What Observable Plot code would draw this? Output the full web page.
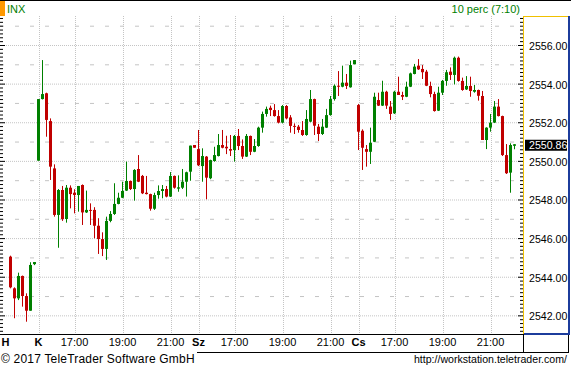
<!DOCTYPE html>
<html><head><meta charset="utf-8">
<script src="https://cdn.jsdelivr.net/npm/d3@7"></script>
<script src="https://cdn.jsdelivr.net/npm/@observablehq/plot@0.6"></script>
<style>
html,body{margin:0;padding:0;background:#fff;}
#wrap{position:relative;width:571px;height:372px;overflow:hidden;font-family:"Liberation Sans",Arial,sans-serif;background:#fff;}
.ln{position:absolute;}
.txt{position:absolute;white-space:nowrap;line-height:16px;}
#chart{position:absolute;left:0;top:16px;}
</style></head>
<body>
<div id="wrap">
  <div class="ln" style="left:0;top:0;width:571px;height:1px;background:#000"></div>
  <div class="ln" style="left:0;top:1px;width:5px;height:15px;background:#ff9900"></div>
  <div class="txt" id="sym" style="left:7px;top:1px;font-size:11px;color:#008000"></div>
  <div class="txt" id="per" style="right:51px;top:1px;font-size:11px;color:#008000"></div>
  <div id="chart"></div>
  <div class="ln" style="left:0;top:334px;width:523px;height:1px;background:#000"></div>
  <div class="ln" style="left:523px;top:16px;width:1px;height:318px;background:#f0c000"></div>
  <div class="ln" style="left:523px;top:16px;width:46px;height:1px;background:#f0c000"></div>
  <div class="ln" style="left:568px;top:16px;width:2px;height:319px;background:#1c3c9c"></div>
  <div class="ln" style="left:524px;top:333px;width:46px;height:2px;background:#1c3c9c"></div>
  <div class="ln" style="left:523px;top:334px;width:1px;height:19px;background:#000"></div>
  <div class="ln" style="left:568px;top:335px;width:1px;height:18px;background:#000"></div>
  <div class="ln" style="left:197px;top:352px;width:372px;height:1px;background:#000"></div>
  <div class="txt" id="copy" style="left:1px;top:351px;font-size:12px;letter-spacing:0.2px;color:#000"></div>
  <div class="txt" id="url" style="right:4px;top:351px;font-size:10.6px;color:#000"></div>
</div>
<script>
// ---- data ----
const symbol = "INX";
const periodLabel = "10 perc (7:10)";
const copyright = "© 2017 TeleTrader Software GmbH";
const url = "http://workstation.teletrader.com/";
const dayNames = ["H", "K", "Sz", "Cs"];
const dayFirstBar = ["21:00", "15:30", "15:30", "15:30"];
const dayBarCounts = [7, 40, 40, 40];
const hourTicks = ["17:00", "19:00", "21:00"];
const yTicks = [2542, 2544, 2546, 2548, 2550, 2552, 2554, 2556];
const lastPrice = 2550.86;

const opens = [
 2545.04,2543.40,2542.88,2544.04,2543.00,2542.24,2544.65,
 2550.01,2553.20,2553.50,2552.06,2549.61,2547.20,2548.49,2546.99,2548.61,2548.35,
 2548.23,2548.75,2547.33,2547.46,2547.46,2546.64,2545.95,2545.44,2546.89,2547.25,
 2547.77,2548.09,2548.46,2548.96,2548.54,2549.58,2549.22,2548.35,2548.28,2547.52,
 2548.23,2548.44,2548.54,2548.15,2549.22,2548.56,2548.61,2548.92,2549.44,2550.82,
 2550.61,2549.73,2550.22,2549.10,2549.99,2550.25,2550.82,2550.73,2550.61,2550.56,
 2551.29,2550.77,2550.22,2551.29,2550.47,2550.77,2551.72,2552.43,2552.75,2552.63,
 2552.32,2551.98,2552.84,2552.25,2551.81,2551.77,2551.60,2551.34,2552.03,2553.20,
 2551.77,2551.39,2551.72,2552.37,2553.20,2553.89,2553.84,2554.05,2553.81,2555.00,
 2552.89,2551.56,2550.61,2550.47,2550.99,2553.15,2552.86,2553.58,2552.81,2552.46,
 2553.58,2553.41,2553.32,2553.84,2554.50,2554.93,2554.76,2554.62,2553.88,2553.46,
 2552.60,2553.53,2554.14,2554.62,2554.45,2555.34,2554.14,2553.70,2553.88,2553.58,
 2553.67,2553.36,2551.08,2551.72,2551.98,2552.81,2552.32,2550.30,2549.39,2550.78
];
const highs = [
 2545.09,2543.45,2544.21,2544.06,2543.14,2544.75,2544.76,
 2553.20,2555.22,2553.53,2552.20,2549.82,2548.54,2548.70,2548.75,2548.73,2548.53,
 2548.70,2548.78,2548.46,2547.80,2547.60,2547.03,2546.30,2547.11,2547.40,2548.84,
 2548.35,2548.92,2549.96,2548.98,2549.57,2550.30,2549.27,2549.22,2548.30,2548.35,
 2548.73,2548.75,2548.70,2549.42,2549.24,2549.25,2549.58,2549.44,2550.79,2550.82,
 2551.60,2550.65,2550.25,2550.06,2550.73,2551.39,2551.60,2551.30,2551.34,2551.34,
 2551.65,2551.11,2551.39,2551.31,2551.13,2551.77,2552.55,2552.81,2552.86,2552.94,
 2552.63,2552.89,2552.89,2552.37,2551.94,2551.86,2552.06,2552.63,2553.67,2553.22,
 2551.91,2552.17,2552.69,2553.36,2553.96,2554.65,2554.93,2554.50,2555.19,2555.22,
 2552.95,2551.63,2550.82,2551.72,2553.53,2553.53,2554.15,2553.63,2553.10,2553.63,
 2554.36,2553.58,2554.10,2554.57,2555.02,2555.27,2554.96,2554.71,2554.10,2553.58,
 2553.84,2554.19,2554.71,2554.84,2555.40,2555.40,2554.31,2554.39,2554.36,2553.93,
 2553.69,2553.62,2551.74,2552.43,2553.10,2553.20,2552.34,2550.87,2550.91,2550.86
];
const lows = [
 2543.40,2541.85,2542.79,2542.45,2541.67,2542.24,2544.60,
 2550.01,2553.18,2551.25,2549.01,2547.11,2545.50,2546.89,2546.80,2547.54,2547.28,
 2547.37,2546.68,2547.30,2546.68,2545.99,2545.18,2545.07,2544.87,2546.82,2547.20,
 2547.75,2548.07,2548.44,2548.49,2547.94,2548.90,2548.28,2548.26,2547.42,2547.46,
 2548.04,2548.06,2548.11,2548.13,2548.56,2548.40,2548.54,2548.15,2548.97,2550.68,
 2549.73,2548.92,2548.01,2549.05,2549.96,2550.23,2550.65,2550.35,2550.25,2549.96,
 2550.56,2550.10,2550.20,2550.30,2550.45,2550.73,2551.46,2552.29,2552.32,2552.29,
 2551.94,2551.94,2552.15,2551.46,2551.39,2551.46,2551.29,2551.30,2552.00,2551.34,
 2551.03,2551.34,2551.70,2552.34,2553.12,2553.36,2553.81,2553.72,2553.79,2555.00,
 2550.56,2549.53,2549.70,2549.84,2550.97,2552.84,2552.84,2552.69,2552.12,2552.43,
 2553.56,2553.15,2553.30,2553.82,2554.48,2554.71,2554.24,2553.87,2553.29,2552.55,
 2552.58,2553.41,2553.89,2554.19,2553.96,2554.10,2553.63,2553.67,2553.32,2553.53,
 2553.12,2551.08,2550.61,2551.51,2551.96,2552.30,2550.25,2549.32,2548.35,2550.60
];
const closes = [
 2543.45,2542.88,2544.04,2543.00,2542.24,2544.61,2544.76,
 2553.20,2553.46,2552.12,2549.70,2547.20,2548.49,2546.99,2548.61,2548.28,2548.23,
 2548.70,2547.33,2547.46,2547.41,2546.64,2545.95,2545.44,2546.89,2547.25,2547.77,
 2548.09,2548.44,2548.96,2548.54,2549.53,2548.92,2548.32,2548.28,2547.52,2548.23,
 2548.44,2548.54,2548.15,2549.22,2548.61,2548.63,2548.92,2549.41,2550.79,2550.68,
 2549.77,2550.25,2549.13,2550.04,2550.30,2550.82,2550.68,2550.65,2550.53,2551.29,
 2550.77,2550.22,2551.29,2550.47,2550.77,2551.72,2552.43,2552.69,2552.63,2552.32,
 2551.98,2552.84,2552.20,2551.81,2551.76,2551.60,2551.34,2552.17,2553.20,2551.82,
 2551.39,2551.77,2552.37,2553.20,2553.89,2553.84,2554.05,2553.88,2554.96,2555.22,
 2551.51,2550.68,2550.47,2550.94,2553.32,2552.86,2553.58,2552.86,2552.43,2553.58,
 2553.41,2553.32,2553.84,2554.53,2554.88,2554.74,2554.59,2553.89,2553.46,2552.58,
 2553.53,2554.14,2554.59,2554.45,2555.34,2554.14,2553.67,2553.88,2553.62,2553.67,
 2553.37,2551.08,2551.72,2551.98,2552.81,2552.32,2550.30,2549.36,2550.82,2550.86
];

// ---- build bars ----
const bars = [];
let slot = 0;
dayNames.forEach((day, di) => {
  const [h, m] = dayFirstBar[di].split(":").map(Number);
  for (let k = 0; k < dayBarCounts[di]; k++, slot++) {
    const mins = h * 60 + m + 10 * k;
    const time = String(Math.floor(mins / 60)).padStart(2, "0") + ":" + String(mins % 60).padStart(2, "0");
    bars.push({day, time, slot, first: k === 0, full: dayFirstBar[di] === "15:30",
      open: opens[slot], high: highs[slot], low: lows[slot], close: closes[slot]});
  }
});
const up = bars.filter(d => d.close >= d.open);
const down = bars.filter(d => d.close < d.open);
const dayStarts = bars.filter(d => d.first && d.full);
const hourBars = bars.filter(d => d.full && hourTicks.includes(d.time));
const gridBars = dayStarts.concat(hourBars);

const levels = d3.range(12706, 12788).map(i => i / 5);
const isEven = v => Math.abs(v / 2 - Math.round(v / 2)) < 1e-6;
const oddLevels = d3.range(2543, 2558, 2);

const GREEN = "#008000", RED = "#c00000", GRID = "#c4c4c4";
const px = p => (p - 10) / 4; // pixel -> slot units for decorative label placement

const chart = Plot.plot({
  width: 571, height: 337,
  marginTop: 0, marginBottom: 19, marginLeft: 0, marginRight: 47,
  x: {type: "linear", domain: [-2.5, 128.5], range: [0, 524], axis: null},
  y: {type: "linear", domain: [2541.034, 2557.502], range: [318, 0], axis: null},
  style: {background: "transparent", fontFamily: "'Liberation Sans', Arial, sans-serif", fontSize: "11px", overflow: "visible"},
  marks: [
    Plot.ruleY(oddLevels, {x1: px(0), x2: px(523), stroke: GRID, strokeDasharray: "4,11"}),
    Plot.ruleY(yTicks, {x1: px(0), x2: px(523), stroke: GRID, strokeDasharray: "1,1"}),
    Plot.ruleX(gridBars, {x: "slot", dx: 1, stroke: GRID, strokeDasharray: "1,1"}),
    // left ticks
    Plot.ruleY(levels, {x1: px(0), x2: d => isEven(d) ? px(5) : px(3), stroke: "#000"}),
    // right ticks
    Plot.ruleY(levels, {x1: d => isEven(d) ? px(518) : px(520), x2: px(523), stroke: "#000"}),
    // candles
    Plot.ruleX(up, {x: "slot", y1: "low", y2: "high", stroke: GREEN, strokeWidth: 1}),
    Plot.ruleX(up, {x: "slot", y1: "open", y2: "close", stroke: GREEN, strokeWidth: 3}),
    Plot.ruleX(down, {x: "slot", y1: "low", y2: "high", stroke: RED, strokeWidth: 1}),
    Plot.ruleX(down, {x: "slot", y1: "open", y2: "close", stroke: RED, strokeWidth: 3}),
    // right axis labels
    Plot.text(yTicks, {x: px(524), y: d => d, text: d => d.toFixed(2), textAnchor: "start", dx: 4.5, dy: 1, fill: "#000", fontSize: 10.6}),
    Plot.ruleY([lastPrice], {x1: px(525), x2: px(567), stroke: "#000", strokeWidth: 11, dy: 0.5}),
    Plot.text([lastPrice], {x: px(524), y: d => d, text: d => d.toFixed(2), textAnchor: "start", dx: 4.5, dy: 1, fill: "#fff", fontSize: 10.6}),
    // x labels
    Plot.text(hourBars, {x: "slot", text: "time", frameAnchor: "bottom", dy: 11, fill: "#000", fontSize: 11}),
    Plot.text(dayStarts, {x: "slot", text: "day", frameAnchor: "bottom", dy: 11, fill: "#000", fontSize: 11, fontWeight: "bold"}),
    Plot.text([dayNames[0]], {text: d => d, frameAnchor: "bottom-left", dy: 11, dx: 1, textAnchor: "start", fill: "#000", fontSize: 11, fontWeight: "bold"})
  ]
});
document.getElementById("chart").appendChild(chart);
document.getElementById("sym").textContent = symbol;
document.getElementById("per").textContent = periodLabel;
document.getElementById("copy").textContent = copyright;
document.getElementById("url").textContent = url;
</script>
</body></html>
